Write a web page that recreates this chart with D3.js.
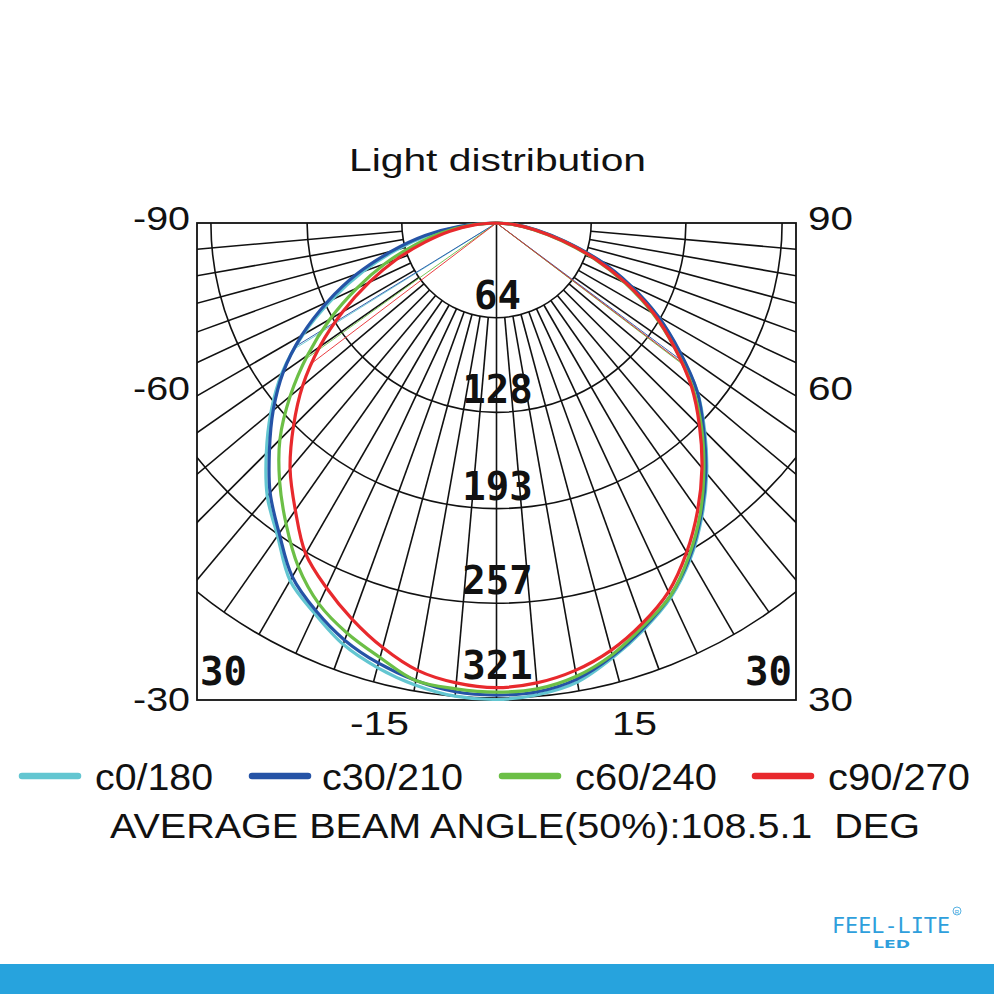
<!DOCTYPE html>
<html>
<head>
<meta charset="utf-8">
<script src="https://cdn.jsdelivr.net/npm/d3@7"></script>
<style>
html,body{margin:0;padding:0;background:#fff;}
svg{display:block;}
</style>
</head>
<body>
<svg id="chart" width="994" height="994"></svg>
<script>
// ---------------- DATA ----------------
const angles = [-90,-85,-80,-75,-70,-65,-60,-55,-50,-45,-40,-35,-30,-25,-20,-15,-10,-5,0,
                5,10,15,20,25,30,35,40,45,50,55,60,65,70,75,80,85,90];
const seriesNames = ["c0/180", "c30/210", "c60/240", "c90/270"];
const c0_180  = [0,23,46,70,96,123,151,177,199,220,241,258,279,291,303,311,317,321,322,
                 320,315,304,292,279,262,242,221,199,177,150,126,99,73,47,27,12,0];
const c30_210 = [0,25,49,73,100,126,152,176,197,217,238,256,276,289,300,308,314,318,319,
                 318,313,303,291,278,261,241,220,198,177,151,126,100,74,48,28,13,0];
const c60_240 = [0,18,37,57,80,104,130,156,182,207,228,248,268,284,295,304,314,316,317,
                 316,311,302,290,278,260,240,218,196,173,147,122,96,70,45,25,11,0];
const c90_270 = [0,15,32,50,72,95,120,146,171,194,217,237,258,272,285,297,307,312,314,
                 312,307,299,288,275,257,237,216,194,172,147,123,97,71,46,26,12,0];
const seriesValues = [c0_180, c30_210, c60_240, c90_270];
const ringValues = [64, 128, 193, 257, 321];
const leftTickLabels = ["-90", "-60", "-30"];
const rightTickLabels = ["90", "60", "30"];
const bottomTickLabels = ["-15", "15"];
const cornerLabels = ["30", "30"];
const titleText = "Light distribution";
const beamText = "AVERAGE BEAM ANGLE(50%):108.5.1  DEG";

// ---------------- LAYOUT / STYLE ----------------
const colors = ["#63c6d1", "#2553a6", "#6cbf46", "#e8292d"];
const frame = {x0: 197, y0: 223, x1: 796, y1: 700};
const cx = (frame.x0 + frame.x1) / 2, cy = frame.y0;
const rMax = 475;

const svg = d3.select("#chart");
const rScale = d3.scaleLinear().domain([0, 321]).range([0, rMax]);
const aScale = d3.scaleLinear().domain([-90, 90]).range([1.5 * Math.PI, 0.5 * Math.PI]);
const pt = (deg, v) => {
  const a = aScale(deg), r = rScale(v);
  return [cx + r * Math.sin(a), cy - r * Math.cos(a)];
};

svg.append("defs").append("clipPath").attr("id", "frameClip")
  .append("rect").attr("x", frame.x0).attr("y", frame.y0)
  .attr("width", frame.x1 - frame.x0).attr("height", frame.y1 - frame.y0);

// grid
const grid = svg.append("g").attr("clip-path", "url(#frameClip)")
  .attr("stroke", "#111").attr("stroke-width", 1.6).attr("fill", "none");

grid.selectAll("circle.ring").data(ringValues).join("circle")
  .attr("class", "ring").attr("cx", cx).attr("cy", cy).attr("r", d => rScale(d));

const spokeAngles = angles.filter(a => Math.abs(a) < 90);
grid.selectAll("line.spoke").data(spokeAngles).join("line")
  .attr("class", "spoke")
  .attr("x1", d => pt(d, d === 0 ? 0 : ringValues[0])[0])
  .attr("y1", d => pt(d, d === 0 ? 0 : ringValues[0])[1])
  .attr("x2", d => pt(d, ringValues[ringValues.length - 1])[0])
  .attr("y2", d => pt(d, ringValues[ringValues.length - 1])[1]);

// frame
svg.append("rect").attr("x", frame.x0).attr("y", frame.y0)
  .attr("width", frame.x1 - frame.x0).attr("height", frame.y1 - frame.y0)
  .attr("fill", "none").attr("stroke", "#111").attr("stroke-width", 1.8);

// beam angle (50%) lines
function halfAngle(vals, side) {
  const peak = d3.max(vals), half = peak / 2;
  let i = angles.indexOf(0);
  while (true) {
    const j = i + side;
    if (j < 0 || j >= angles.length) return null;
    if (vals[j] <= half) {
      const t = (vals[i] - half) / (vals[i] - vals[j]);
      return {deg: angles[i] + t * (angles[j] - angles[i]), v: half};
    }
    i = j;
  }
}
seriesValues.forEach((vals, k) => {
  [-1, 1].forEach(side => {
    const h = halfAngle(vals, side);
    if (!h) return;
    const p = pt(h.deg, h.v);
    svg.append("line").attr("x1", cx).attr("y1", cy).attr("x2", p[0]).attr("y2", p[1])
      .attr("stroke", colors[k]).attr("stroke-width", 0.9);
  });
});

// curves
const radial = d3.lineRadial()
  .angle(d => aScale(d[0]))
  .radius(d => rScale(d[1]))
  .curve(d3.curveCatmullRom.alpha(0.5));
const curvesG = svg.append("g").attr("transform", `translate(${cx},${cy})`);
seriesValues.forEach((vals, k) => {
  curvesG.append("path")
    .attr("d", radial(angles.map((a, i) => [a, vals[i]])))
    .attr("fill", "none").attr("stroke", colors[k]).attr("stroke-width", 3.2)
    .attr("stroke-linejoin", "round");
});

// ring labels
const monoFont = "'DejaVu Sans Mono', monospace";
svg.selectAll("text.ringLabel").data(ringValues).join("text")
  .attr("class", "ringLabel")
  .attr("x", cx + 1)
  .attr("y", d => Math.min(cy + rScale(d) - 9, frame.y1 - 21))
  .attr("text-anchor", "middle")
  .attr("font-family", monoFont).attr("font-weight", "bold").attr("font-size", 39)
  .attr("fill", "#111")
  .text(d => d);

// corner labels
svg.selectAll("text.corner").data(cornerLabels).join("text")
  .attr("class", "corner")
  .attr("x", (d, i) => i === 0 ? frame.x0 + 3 : frame.x1 - 4)
  .attr("y", frame.y1 - 15)
  .attr("text-anchor", (d, i) => i === 0 ? "start" : "end")
  .attr("font-family", monoFont).attr("font-weight", "bold").attr("font-size", 39)
  .attr("fill", "#111")
  .text(d => d);

// axis tick labels
const sansFont = "'Liberation Sans', Arial, sans-serif";
const sideTickY = [230, 400, 711];
svg.selectAll("text.lt").data(leftTickLabels).join("text")
  .attr("class", "lt").attr("x", 133).attr("y", (d, i) => sideTickY[i])
  .attr("font-family", sansFont).attr("font-size", 33).attr("fill", "#111")
  .attr("textLength", 57).attr("lengthAdjust", "spacingAndGlyphs")
  .text(d => d);
svg.selectAll("text.rt").data(rightTickLabels).join("text")
  .attr("class", "rt").attr("x", 808).attr("y", (d, i) => sideTickY[i])
  .attr("font-family", sansFont).attr("font-size", 33).attr("fill", "#111")
  .attr("textLength", 45).attr("lengthAdjust", "spacingAndGlyphs")
  .text(d => d);
const bottomTickX = [350, 612];
svg.selectAll("text.bt").data(bottomTickLabels).join("text")
  .attr("class", "bt").attr("x", (d, i) => bottomTickX[i]).attr("y", 735)
  .attr("font-family", sansFont).attr("font-size", 33).attr("fill", "#111")
  .attr("textLength", d => d.length === 3 ? 59 : 45).attr("lengthAdjust", "spacingAndGlyphs")
  .text(d => d);

// title
svg.append("text").attr("x", 349).attr("y", 171)
  .attr("font-family", sansFont).attr("font-size", 31).attr("fill", "#111")
  .attr("textLength", 297).attr("lengthAdjust", "spacingAndGlyphs")
  .text(titleText);

// legend
const legendLineX = [22, 252, 502, 755];
const legendTextX = [95, 322, 575, 828];
const legendTextW = [118, 141, 142, 142];
const legend = svg.append("g");
seriesNames.forEach((name, k) => {
  legend.append("line").attr("x1", legendLineX[k]).attr("x2", legendLineX[k] + 56)
    .attr("y1", 776).attr("y2", 776)
    .attr("stroke", colors[k]).attr("stroke-width", 6.5).attr("stroke-linecap", "round");
  legend.append("text").attr("x", legendTextX[k]).attr("y", 790)
    .attr("font-family", sansFont).attr("font-size", 36).attr("fill", "#111")
    .attr("textLength", legendTextW[k]).attr("lengthAdjust", "spacingAndGlyphs")
    .text(name);
});

// beam angle text
svg.append("text").attr("x", 110).attr("y", 838)
  .attr("font-family", sansFont).attr("font-size", 35).attr("fill", "#111")
  .style("white-space", "pre")
  .attr("textLength", 810).attr("lengthAdjust", "spacingAndGlyphs")
  .text(beamText);

// logo
const logoColor = "#2f9fdc";
svg.append("text").attr("x", 832).attr("y", 933)
  .attr("font-family", "'DejaVu Sans Mono', monospace").attr("font-size", 22)
  .attr("fill", logoColor)
  .attr("textLength", 118).attr("lengthAdjust", "spacingAndGlyphs")
  .text("FEEL-LITE");
svg.append("text").attr("x", 873).attr("y", 948)
  .attr("font-family", "'DejaVu Sans', sans-serif").attr("font-weight", "bold").attr("font-size", 11)
  .attr("fill", logoColor)
  .attr("textLength", 37).attr("lengthAdjust", "spacingAndGlyphs")
  .text("LED");
svg.append("circle").attr("cx", 957).attr("cy", 911).attr("r", 4)
  .attr("fill", "none").attr("stroke", logoColor).attr("stroke-width", 0.8);
svg.append("text").attr("x", 957).attr("y", 913.5).attr("text-anchor", "middle")
  .attr("font-family", sansFont).attr("font-size", 6).attr("fill", logoColor).text("R");

// bottom band
svg.append("rect").attr("x", 0).attr("y", 964).attr("width", 994).attr("height", 30)
  .attr("fill", "#27a3dd");
</script>
</body>
</html>
